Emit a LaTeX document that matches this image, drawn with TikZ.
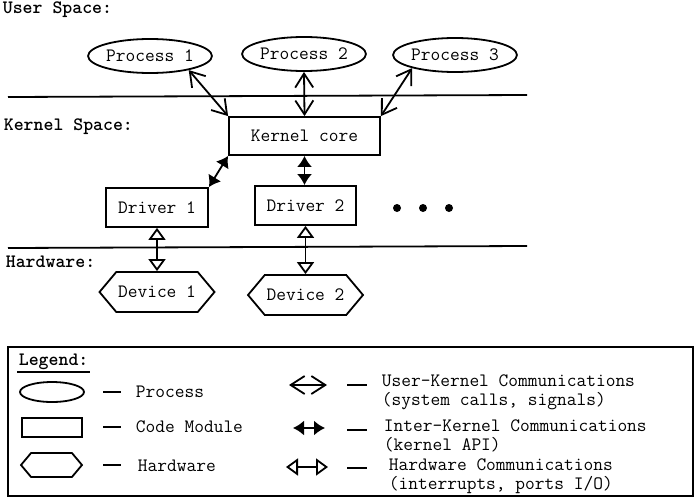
\documentclass[tikz,border=0pt]{standalone}
\usepackage{fontspec}
\usetikzlibrary{positioning}
\usetikzlibrary{arrows.meta}
\usetikzlibrary{shapes.geometric}
\usetikzlibrary{shapes.symbols}
\tikzset{every path/.style={line width=1.8pt}}
\tikzset{lbl/.style={anchor=west,inner sep=0pt,font=\ttfamily\fontsize{18.9}{19}\selectfont\bfseries}}
\tikzset{txt/.style={anchor=west,inner sep=0pt,align=left}}
\tikzset{proc/.style={draw,ellipse,inner sep=0pt,minimum width=116pt,minimum height=34pt}}
\tikzset{modl/.style={draw,rectangle,inner sep=0pt,minimum width=102pt,minimum height=39pt}}
\tikzset{dev/.style={draw,signal,signal to=west and east,signal pointer angle=100,inner sep=0pt,minimum width=115pt,minimum height=40pt}}
\tikzset{uk/.style={{Straight Barb[length=14pt,width=18pt]}-{Straight Barb[length=14pt,width=18pt]}}}
\tikzset{ik/.style={{Latex[length=11pt,width=15pt]}-{Latex[length=11pt,width=15pt]}}}
\tikzset{hwc/.style={{Triangle[open,length=12pt,width=17pt]}-{Triangle[open,length=12pt,width=17pt]}}}

\begin{document}
\begin{tikzpicture}[x=1pt,y=-1pt,font=\ttfamily\fontsize{18.9}{19}\selectfont]
\useasboundingbox (0,0) rectangle (695,498);

% spaces
\node[lbl] (us) at (2,9.5) {User Space:};
\node[lbl] (ks) at (3,127) {Kernel Space:};
\node[lbl] (hs) at (5,262) {Hardware:};
\draw (8,97) -- (527,95);
\draw (8,248) -- (527,246);

\node[proc] (p1) at (150,56) {Process 1};
\node[proc] (p2) at (304,54) {Process 2};
\node[proc] (p3) at (455,55) {Process 3};

\node[modl, minimum width=151pt, minimum height=38pt] (kc) at (304.5,136) {Kernel core};
\node[modl] (d1) at (157,207.5) {Driver 1};
\node[modl, minimum width=101pt] (d2) at (305.5,205.5) {Driver 2};

\node[dev] (v1) at (157,292) {Device 1};
\node[dev] (v2) at (305.5,295) {Device 2};

\draw[uk] (p1.-20) -- (kc.north west);
\draw[uk] (p2.south) -- (kc.north);
\draw[uk] (p3.197) -- (kc.north east);

\draw[ik] (kc.south west) -- (d1.north east);
\draw[ik] (kc.south) -- (kc.south |- d2.north);

\draw[hwc] (d1.south) -- (d1.south |- v1.north);
\draw[hwc] (d2.south) -- (d2.south |- v2.north);

\foreach \x in {397,423,449}
  \fill (\x,208) circle (4pt);

% legend
\draw (8,347) rectangle (693,496);
\node[lbl, inner sep=1pt] (lg) at (17,362) {Legend:};
\draw (lg.south west) -- (lg.south east);

\node[proc, minimum width=64pt, minimum height=20pt] (lp) at (52,392) {};
\node[modl, minimum width=60pt, minimum height=19pt] (lm) at (52,427.5) {};
\node[dev, minimum width=61pt, minimum height=24pt] (lh) at (51.5,465) {};

\draw (103,392) -- (121,392);
\draw (103,427) -- (121,427);
\draw (103,465) -- (121,465);
\node[txt] (tp) at (135,392) {Process};
\node[txt] (tm) at (135,427) {Code Module};
\node[txt] (th) at (137,466) {Hardware};

\coordinate (a1) at (289,385);
\coordinate (a2) at (327,385);
\coordinate (b1) at (293,428);
\coordinate (b2) at (325,428);
\coordinate (c1) at (286,467);
\coordinate (c2) at (328,467);
\draw[uk] (a1) -- (a2);
\draw[ik] (b1) -- (b2);
\draw[hwc] (c1) -- (c2);

\draw (347,385) -- (367,385);
\draw (347,430) -- (367,430);
\draw (347,468) -- (367,468);
\node[txt] (tu) at (381,392) {User-Kernel Communications\\(system calls, signals)};
\node[txt] (ti) at (383,436) {Inter-Kernel Communications\\(kernel API)};
\node[txt] (tw) at (388,476) {Hardware Communications\\(interrupts, ports I/O)};
\end{tikzpicture}
\end{document}
